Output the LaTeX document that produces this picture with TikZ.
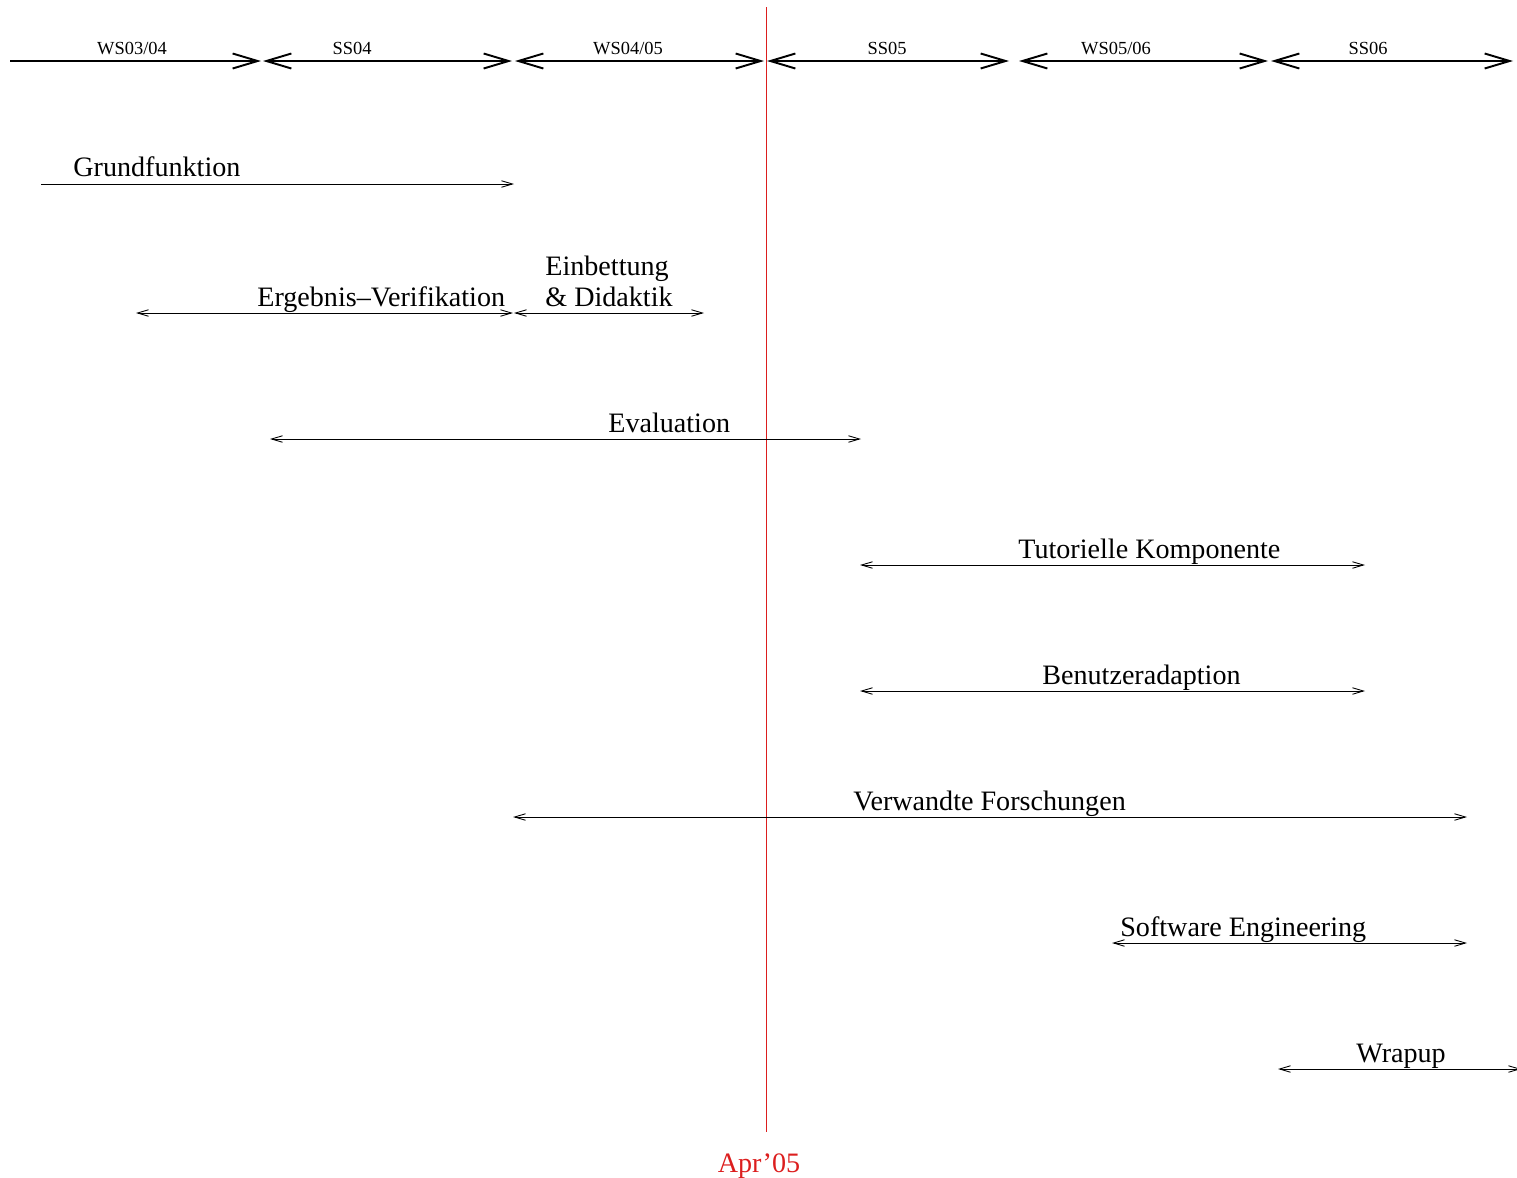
\documentclass[tikz,border=0pt]{standalone}
\usepackage{fontspec}
\setmainfont{Liberation Serif}
\usetikzlibrary{arrows.meta}

\definecolor{nowred}{RGB}{220,30,30}

\tikzset{
  semester/.style={line width=1.1pt, {Straight Barb[length=0.5cm, width=0.3cm]}-{Straight Barb[length=0.5cm, width=0.3cm]}},
  semesterfirst/.style={line width=1.1pt, -{Straight Barb[length=0.5cm, width=0.3cm]}},
  phase/.style={line width=0.5pt, {Straight Barb[length=0.22cm, width=0.13cm]}-{Straight Barb[length=0.22cm, width=0.13cm]}},
  phaseright/.style={line width=0.5pt, -{Straight Barb[length=0.22cm, width=0.13cm]}},
  semlabel/.style={anchor=base, inner sep=0pt, font=\fontsize{10.5}{12}\selectfont},
  phaselabel/.style={anchor=base west, inner sep=0pt, font=\fontsize{16}{19}\selectfont}
}

\begin{document}
\begin{tikzpicture}[x=0.02cm, y=-0.02cm]
% Fix the page to the size of the reference
\useasboundingbox (0, 0) rectangle (1517, 1177);

% Semester axis at the top
\coordinate (s0) at (10, 61);
\coordinate (s1a) at (261, 61);
\coordinate (s1b) at (263, 61);
\coordinate (s2a) at (512, 61);
\coordinate (s2b) at (515, 61);
\coordinate (s3a) at (764, 61);
\coordinate (s3b) at (767, 61);
\coordinate (s4a) at (1009, 61);
\coordinate (s4b) at (1019, 61);
\coordinate (s5a) at (1268, 61);
\coordinate (s5b) at (1271, 61);
\coordinate (s6) at (1513, 61);
\draw[semesterfirst] (s0) -- (s1a);
\draw[semester] (s1b) -- (s2a);
\draw[semester] (s2b) -- (s3a);
\draw[semester] (s3b) -- (s4a);
\draw[semester] (s4b) -- (s5a);
\draw[semester] (s5b) -- (s6);
\node[semlabel] (ws0304) at (132, 54) {WS03/04};
\node[semlabel] (ss04) at (352, 54) {SS04};
\node[semlabel] (ws0405) at (628, 54) {WS04/05};
\node[semlabel] (ss05) at (887, 54) {SS05};
\node[semlabel] (ws0506) at (1116, 54) {WS05/06};
\node[semlabel] (ss06) at (1368, 54) {SS06};

% Today marker
\coordinate (nowtop) at (766, 7);
\coordinate (nowbot) at (766, 1132);
\draw[nowred, line width=0.4pt] (nowtop) -- (nowbot);
\node[anchor=base, inner sep=0pt, text=nowred, font=\fontsize{16}{19}\selectfont] (now) at (759, 1172) {Apr'05};

% Grundfunktion
\coordinate (grundA) at (41, 184);
\coordinate (grundB) at (514, 184);
\draw[phaseright] (grundA) -- (grundB);
\node[phaselabel] (grund) at (73, 176) {Grundfunktion};

% Ergebnis-Verifikation
\coordinate (ergA) at (136, 313);
\coordinate (ergB) at (513, 313);
\draw[phase] (ergA) -- (ergB);
\node[phaselabel] (erg) at (257, 306) {Ergebnis--Verifikation};

% Einbettung & Didaktik
\coordinate (einA) at (514, 313);
\coordinate (einB) at (704, 313);
\draw[phase] (einA) -- (einB);
\node[phaselabel] (ein1) at (545, 275) {Einbettung};
\node[phaselabel] (ein2) at (545, 306) {\& Didaktik};

% Evaluation
\coordinate (evalA) at (270, 439);
\coordinate (evalB) at (861, 439);
\draw[phase] (evalA) -- (evalB);
\node[phaselabel] (eval) at (608, 432) {Evaluation};

% Tutorielle Komponente
\coordinate (tutA) at (860, 565);
\coordinate (tutB) at (1365, 565);
\draw[phase] (tutA) -- (tutB);
\node[phaselabel] (tut) at (1018, 558) {Tutorielle Komponente};

% Benutzeradaption
\coordinate (benA) at (860, 691);
\coordinate (benB) at (1365, 691);
\draw[phase] (benA) -- (benB);
\node[phaselabel] (ben) at (1042, 684) {Benutzeradaption};

% Verwandte Forschungen
\coordinate (verA) at (513, 817);
\coordinate (verB) at (1467, 817);
\draw[phase] (verA) -- (verB);
\node[phaselabel] (ver) at (853, 810) {Verwandte Forschungen};

% Software Engineering
\coordinate (swA) at (1112, 943);
\coordinate (swB) at (1467, 943);
\draw[phase] (swA) -- (swB);
\node[phaselabel] (sw) at (1120, 936) {Software Engineering};

% Wrapup
\coordinate (wrapA) at (1278, 1069);
\coordinate (wrapB) at (1521, 1069);
\draw[phase] (wrapA) -- (wrapB);
\node[phaselabel] (wrap) at (1356, 1062) {Wrapup};
\end{tikzpicture}
\end{document}
